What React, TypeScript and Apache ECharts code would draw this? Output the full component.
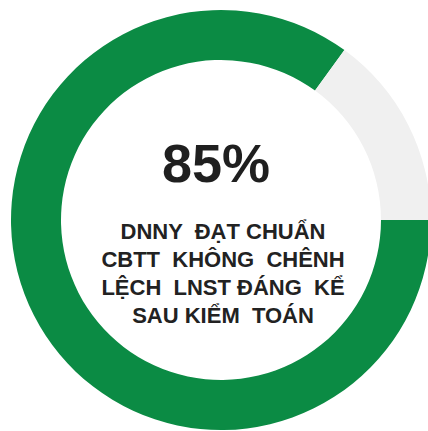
import React, { useEffect, useRef } from "react";
import * as echarts from "echarts";

const sliceNames = ["Đạt chuẩn", "Còn lại"];
const sliceValues = [85, 15];
const sliceColors = ["#0B8B44", "#F0F0F0"];
const centerValue = "85%";
const captionLines = ["DNNY  ĐẠT CHUẨN", "CBTT  KHÔNG  CHÊNH", "LỆCH  LNST ĐÁNG  KỂ", "SAU KIỂM  TOÁN"];

export default function App() {
  const ref = useRef<HTMLDivElement>(null);
  useEffect(() => {
    document.body.style.margin = "0";
    const chart = echarts.init(ref.current!, null, { renderer: "svg" });
    const captionFont = "'Liberation Sans', Arial, sans-serif";
    chart.setOption({
      animation: false,
      backgroundColor: "#ffffff",
      series: [
        {
          type: "pie",
          center: [221, 220],
          radius: [160, 210],
          startAngle: 0,
          clockwise: true,
          silent: true,
          label: { show: false },
          labelLine: { show: false },
          data: sliceValues.map((v, i) => ({
            name: sliceNames[i],
            value: v,
            itemStyle: { color: sliceColors[i] },
          })),
        },
      ],
      graphic: [
        {
          type: "text",
          x: 216,
          y: 163,
          style: {
            text: centerValue,
            align: "center",
            verticalAlign: "middle",
            fontFamily: "'Liberation Sans', Arial, sans-serif",
            fontWeight: "bold",
            fontSize: 54,
            fill: "#1f1f1f",
          },
        },
        ...captionLines.map((line, i) => ({
          type: "text",
          x: 223,
          y: 231 + i * 28.3,
          style: {
            text: line,
            align: "center",
            verticalAlign: "middle",
            fontFamily: captionFont,
            fontWeight: "bold",
            fontSize: 22,
            fill: "#222222",
          },
        })),
      ],
    });
    return () => chart.dispose();
  }, []);
  return <div ref={ref} style={{ width: 428, height: 431 }} />;
}
